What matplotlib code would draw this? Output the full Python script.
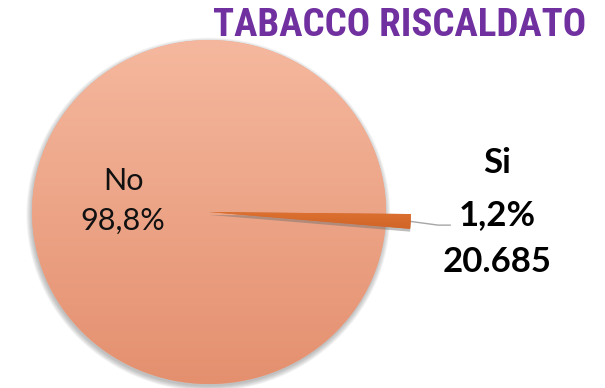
import numpy as np
import matplotlib
matplotlib.use("Agg")
import matplotlib.pyplot as plt
from matplotlib import font_manager
from matplotlib.patches import Ellipse, Shadow
from matplotlib.colors import LinearSegmentedColormap

# data
labels = ["Si", "No"]
shares = [1.2, 98.8]
share_text = ["1,2%", "98,8%"]
si_count = "20.685"
title = "TABACCO RISCALDATO"


def pick_font(names):
    installed = {f.name for f in font_manager.fontManager.ttflist}
    for n in names:
        if n in installed:
            return n
    return "DejaVu Sans"


title_font = pick_font(["Liberation Sans Narrow", "Roboto Condensed", "Roboto"])
label_font = pick_font(["Lato", "Open Sans"])

fig = plt.figure(figsize=(6.05, 3.88), dpi=100)
ax = fig.add_axes([0, 0, 1, 1])

wedges, _ = ax.pie(
    shares,
    startangle=-4.9,
    counterclock=True,
    colors=["#D9692B", "#F0A88A"],
    wedgeprops=dict(linewidth=0),
)
# the small slice sticks out past the rim
wedges[0].set_radius(1.14)
wedges[0].set_zorder(4)
wedges[1].set_zorder(2)

# soft shadow around the pie, mostly down-left
for k in range(6):
    ax.add_patch(Ellipse((-0.004, -0.014), 2 + 0.011 * k, 2 + 0.011 * k,
                         facecolor="#555555", edgecolor="none", alpha=0.07, zorder=1))
si_shadow = Shadow(wedges[0], 0.0, -0.012, alpha=0.45, zorder=3.5)
si_shadow.set_facecolor("#6E6E6E")
ax.add_patch(si_shadow)

# vertical gradient fills
grad = np.linspace(0, 1, 256).reshape(-1, 1)
cmap_no = LinearSegmentedColormap.from_list("no", ["#F5B89E", "#E4906F"])
im = ax.imshow(grad, extent=(-1, 1, -1, 1), cmap=cmap_no, aspect="auto",
               origin="upper", zorder=2.5)
im.set_clip_path(wedges[1])
cmap_si = LinearSegmentedColormap.from_list("si", ["#E07634", "#CF6226"])
im2 = ax.imshow(grad, extent=(-1.2, 1.2, -0.12, 0.05), cmap=cmap_si, aspect="auto",
                origin="upper", zorder=5)
im2.set_clip_path(wedges[0])

ax.set_aspect("auto")
ax.set_xlim(-1.181, 2.237)
ax.set_ylim(-1.023, 1.233)
ax.axis("off")

# No label inside
ax.text(-0.486, 0.064, f"{labels[1]}\n{share_text[1]}", ha="center", va="center",
        fontsize=22, family=label_font, color="#111111", linespacing=1.5, zorder=6)

# Si label outside with leader line
w = wedges[0]
mid = np.deg2rad((w.theta1 + w.theta2) / 2)
p0 = (w.r * np.cos(mid), w.r * np.sin(mid))
ax.plot([p0[0], 1.294, 1.362], [p0[1], -0.076, -0.076], color="#A6A6A6", lw=1.0, zorder=3)
ax.text(1.627, 0.285, labels[0], ha="center", va="center", fontsize=25,
        fontweight="bold", family=label_font, color="black")
ax.text(1.627, -0.017, share_text[0], ha="center", va="center", fontsize=25,
        fontweight="bold", family=label_font, color="black")
ax.text(1.627, -0.291, si_count, ha="center", va="center", fontsize=25,
        fontweight="bold", family=label_font, color="black")

fig.text(400 / 605, 1 - 25 / 388, title, ha="center", va="center", fontsize=28,
         fontweight="bold", family=title_font, color="#7030A0")

fig.savefig("out.png", dpi=100)
